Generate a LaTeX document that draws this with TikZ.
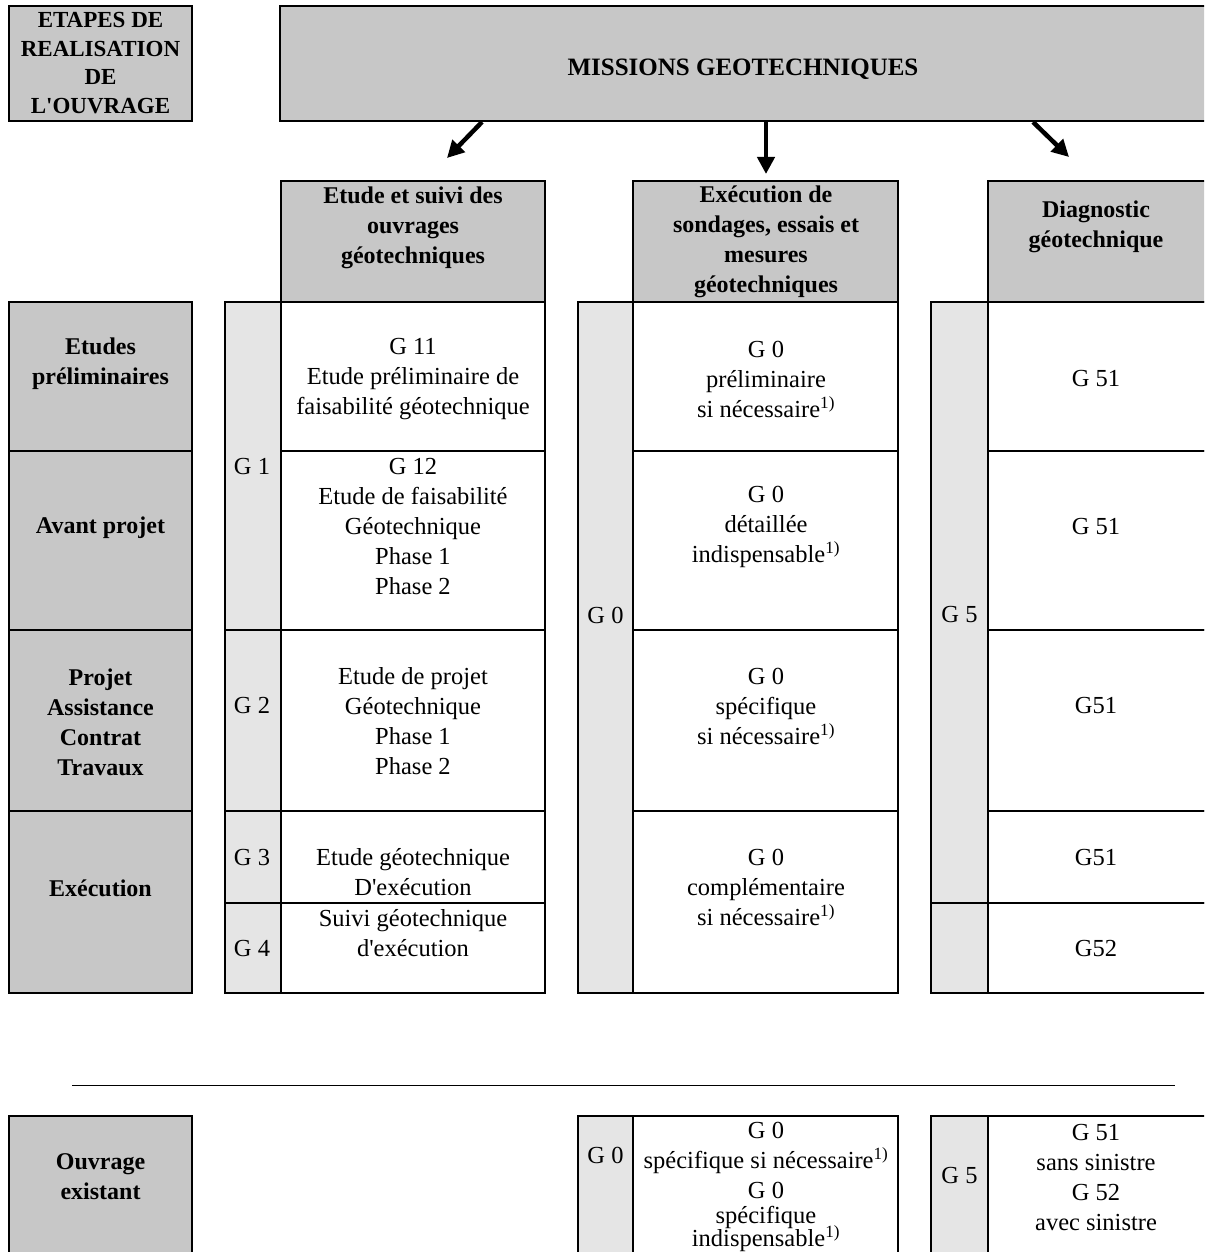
\documentclass[tikz,border=0pt]{standalone}
\usepackage{fontspec}
\setmainfont{Liberation Serif}
\newfontfamily\apf{Liberation Serif}
\usetikzlibrary{fit,arrows.meta}
\newcommand{\ap}{{\apf '}}
\newcommand{\regf}{\fontsize{24.5}{30}\selectfont}
\newcommand{\bldf}{\fontsize{24}{30}\selectfont\bfseries}
\newcommand{\etf}{\fontsize{23}{28.5}\selectfont\bfseries}
\newcommand{\fn}{\textsuperscript{1)}}
\tikzset{
 box/.style={draw, line width=1.4pt, inner sep=0pt},
 dark/.style={box, fill=black!22},
 light/.style={box, fill=black!10},
 plain/.style={box, fill=white},
 txt/.style={align=center, font=\regf, inner sep=0pt},
 btxt/.style={align=center, font=\bldf, inner sep=0pt},
 arr/.style={line width=4.5pt, -{Triangle[length=17pt,width=17pt]}},
}
\begin{document}
\begin{tikzpicture}[x=1pt,y=-1pt]
\clip (0,0) rectangle (1204,1252);
\fill[white] (0,0) rectangle (1204,1252);
% top boxes
\node[dark, fit={(9,6) (192,121)}] (etapes) {};
\node[dark, fit={(280,6) (1240,121)}] (missions) {};
\node[btxt, font=\etf] (etapesT) at (100.5,63) {ETAPES DE\\REALISATION\\DE\\L\ap OUVRAGE};
\node[btxt, font=\fontsize{25}{30}\selectfont\bfseries] (missionsT) at (743,69) {MISSIONS GEOTECHNIQUES};
% arrows
\coordinate (a1s) at (482,122); \coordinate (a1e) at (447,158);
\coordinate (a2s) at (766,122); \coordinate (a2e) at (766,174);
\coordinate (a3s) at (1033,122); \coordinate (a3e) at (1069,157);
\draw[arr] (a1s) -- (a1e);
\draw[arr] (a2s) -- (a2e);
\draw[arr] (a3s) -- (a3e);
% headers
\node[dark, fit={(281,181) (545,302)}] (h1) {};
\node[dark, fit={(633,181) (898,302)}] (h2) {};
\node[dark, fit={(988,181) (1240,302)}] (h3) {};
\node[btxt] (h1T) at (413,228) {Etude et suivi des\\ouvrages\\géotechniques};
\node[btxt] (h2T) at (766,242) {Exécution de\\sondages, essais et\\mesures\\géotechniques};
\node[btxt] (h3T) at (1096,227) {Diagnostic\\géotechnique};
% left labels
\node[dark, fit={(9,302) (192,451)}] (l1) {};
\node[dark, fit={(9,451) (192,630)}] (l2) {};
\node[dark, fit={(9,630) (192,811)}] (l3) {};
\node[dark, fit={(9,811) (192,993)}] (l4) {};
\node[btxt] (l1T) at (100.5,364) {Etudes\\préliminaires};
\node[btxt] (l2T) at (100.5,528) {Avant projet};
\node[btxt] (l3T) at (100.5,722) {Projet\\Assistance\\Contrat\\Travaux};
\node[btxt] (l4T) at (100.5,888) {Exécution};
% column 1
\node[light, fit={(225,302) (281,630)}] (g1) {};
\node[light, fit={(225,630) (281,811)}] (g2) {};
\node[light, fit={(225,811) (281,903)}] (g3) {};
\node[light, fit={(225,903) (281,993)}] (g4) {};
\node[plain, fit={(281,302) (545,451)}] (c11) {};
\node[plain, fit={(281,451) (545,630)}] (c12) {};
\node[plain, fit={(281,630) (545,811)}] (c13) {};
\node[plain, fit={(281,811) (545,903)}] (c14) {};
\node[plain, fit={(281,903) (545,993)}] (c15) {};
\node[txt] (g1T) at (252,467) {G 1};
\node[txt] (g2T) at (252,706) {G 2};
\node[txt] (g3T) at (252,857) {G 3};
\node[txt] (g4T) at (252,948) {G 4};
\node[txt] (c11T) at (413,379) {G 11\\Etude préliminaire de\\faisabilité géotechnique};
\node[txt] (c12T) at (413,527) {G 12\\Etude de faisabilité\\Géotechnique\\Phase 1\\Phase 2};
\node[txt] (c13T) at (413,721) {Etude de projet\\Géotechnique\\Phase 1\\Phase 2};
\node[txt] (c14T) at (413,872) {Etude géotechnique\\D\ap exécution};
\node[txt] (c15T) at (413,933) {Suivi géotechnique\\d\ap exécution};
% column 2
\node[light, fit={(578,302) (633,993)}] (g0) {};
\node[plain, fit={(633,302) (898,451)}] (c21) {};
\node[plain, fit={(633,451) (898,630)}] (c22) {};
\node[plain, fit={(633,630) (898,811)}] (c23) {};
\node[plain, fit={(633,811) (898,993)}] (c24) {};
\node[txt] (g0T) at (605.5,615) {G 0};
\node[txt] (c21T) at (766,379) {G 0\\préliminaire\\si nécessaire\fn};
\node[txt] (c22T) at (766,527) {G 0\\détaillée\\indispensable\fn};
\node[txt] (c23T) at (766,706) {G 0\\spécifique\\si nécessaire\fn};
\node[txt] (c24T) at (766,887) {G 0\\complémentaire\\si nécessaire\fn};
% column 3
\node[light, fit={(931,302) (988,903)}] (g5) {};
\node[light, fit={(931,903) (988,993)}] (g5b) {};
\node[plain, fit={(988,302) (1240,451)}] (c31) {};
\node[plain, fit={(988,451) (1240,630)}] (c32) {};
\node[plain, fit={(988,630) (1240,811)}] (c33) {};
\node[plain, fit={(988,811) (1240,903)}] (c34) {};
\node[plain, fit={(988,903) (1240,993)}] (c35) {};
\node[txt] (g5T) at (959.5,615) {G 5};
\node[txt] (c31T) at (1096,379) {G 51};
\node[txt] (c32T) at (1096,527) {G 51};
\node[txt] (c33T) at (1096,706) {G51};
\node[txt] (c34T) at (1096,857) {G51};
\node[txt] (c35T) at (1096,948) {G52};
% separator
\coordinate (hl1) at (72,1085); \coordinate (hl2) at (1175,1085);
\draw[line width=1pt] (hl1) -- (hl2);
% bottom
\node[dark, fit={(9,1116) (192,1290)}] (ouv) {};
\node[btxt] (ouvT) at (100.5,1177) {Ouvrage\\existant};
\node[light, fit={(578,1116) (633,1290)}] (bg0) {};
\node[plain, fit={(633,1116) (898,1290)}] (bc2) {};
\node[light, fit={(931,1116) (988,1290)}] (bg5) {};
\node[plain, fit={(988,1116) (1240,1290)}] (bc3) {};
\node[txt] (bg0T) at (605.5,1155) {G 0};
\node[txt] (bg5T) at (959.5,1175) {G 5};
\node[txt] (bc2T) at (766,1187) {G 0\\spécifique si nécessaire\fn\\G 0\\[-5pt]spécifique\\[-7pt]indispensable\fn};
\node[txt] (bc3T) at (1096,1177) {G 51\\sans sinistre\\G 52\\avec sinistre};
\end{tikzpicture}
\end{document}
